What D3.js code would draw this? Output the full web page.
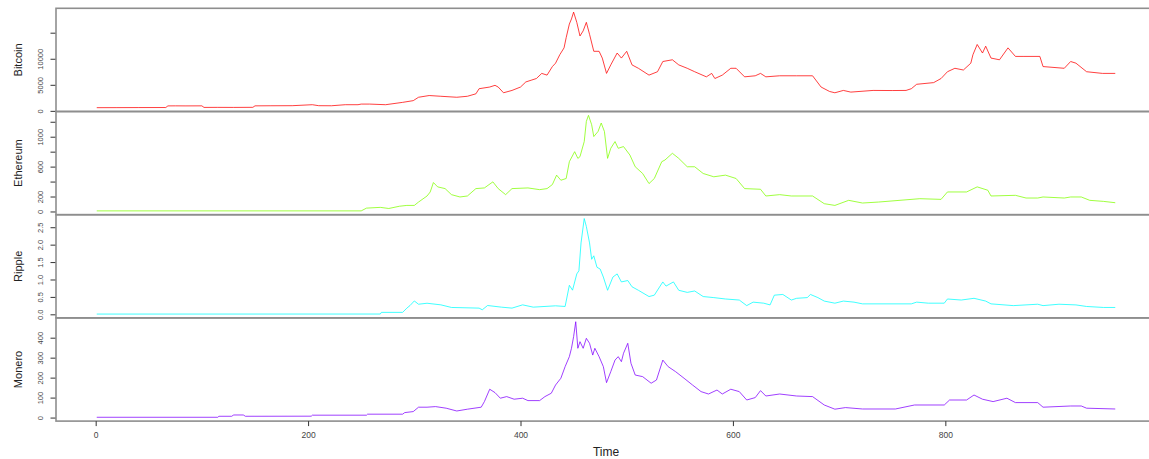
<!DOCTYPE html>
<html>
<head>
<meta charset="utf-8">
<script src="https://cdn.jsdelivr.net/npm/d3@7/dist/d3.min.js"></script>
<style>
body { margin: 0; background: #fff; }
svg { display: block; font-family: "Liberation Sans", Arial, sans-serif; }
.border { fill: none; stroke: #8e8e8e; stroke-width: 1.6; }
.axis path.domain { display: none; }
.axis line { stroke: #333; }
.axis text { fill: #444; }
.series { fill: none; stroke-width: 1; stroke-opacity: 0.75; stroke-linejoin: round; }
</style>
</head>
<body>
<svg id="chart" width="1149" height="459"></svg>
<script>
// [time, price] pairs
var bitcoin = [[1,610],[20,620],[40,630],[66,640],[68,950],[75,960],[85,950],[100,960],[102,660],[115,670],
    [130,660],[148,680],[150,960],[165,980],[185,990],[204,1180],[210,990],[222,980],[235,1180],[247,1180],
    [250,1300],[258,1300],[273,1180],[289,1630],[299,1960],[304,2610],[314,2940],[325,2800],[340,2610],[350,2800],
    [358,3270],[361,4250],[371,4570],[376,4900],[379,4570],[384,3470],[392,3920],[400,4570],[405,5550],[410,5880],
    [415,6210],[420,7190],[425,6860],[430,8500],[433,9150],[437,10780],[441,12090],[443,14050],[446,16660],[448,17640],
    [450,18950],[453,16990],[456,14370],[459,15350],[462,16990],[465,14700],[469,11430],[474,11430],[477,10130],[481,7190],
    [485,8820],[491,11100],[495,10130],[500,11430],[505,8820],[511,8170],[521,6860],[529,7510],[534,9470],[543,9800],
    [549,8820],[557,8170],[564,7510],[575,6530],[580,7190],[583,6210],[590,6860],[598,8170],[603,8170],[611,6530],
    [621,6730],[626,7190],[631,6530],[644,6730],[660,6730],[675,6730],[683,4570],[691,3720],[696,3470],[704,3920],
    [711,3600],[732,3920],[750,3900],[763,3920],[768,4250],[773,5100],[789,5420],[796,6210],[802,7510],[809,8170],
    [817,7840],[824,9150],[826,10780],[830,12740],[835,11100],[838,12410],[843,10130],[851,9800],[859,12090],[866,10450],
    [874,10450],[889,10450],[892,8500],[912,8170],[918,9470],[923,9150],[933,7510],[948,7190],[960,7190]];

var ethereum = [[1,8],[250,8],[255,45],[268,55],[276,40],[286,70],[293,81],[300,81],[304,126],[312,207],
    [315,261],[318,387],[322,329],[329,306],[335,225],[343,194],[350,207],[358,306],[366,315],[374,396],
    [379,306],[386,225],[392,306],[407,315],[418,292],[425,306],[430,360],[434,486],[438,418],[443,441],
    [446,666],[451,800],[454,710],[456,733],[460,935],[462,1205],[464,1286],[467,1160],[469,1002],[473,1070],
    [476,1183],[479,1070],[482,710],[485,845],[489,935],[492,845],[497,868],[503,755],[508,598],[515,508],
    [521,373],[526,441],[533,666],[536,688],[543,778],[549,710],[557,598],[564,598],[572,508],[582,464],
    [593,486],[603,441],[611,306],[626,297],[631,207],[644,225],[655,207],[675,207],[686,104],[696,81],
    [709,149],[722,113],[737,126],[776,171],[796,162],[802,261],[820,261],[830,329],[840,284],[843,207],
    [866,216],[876,180],[887,180],[892,194],[912,180],[918,194],[928,194],[936,149],[949,135],[960,117]];

var ripple = [[1,0.007],[268,0.008],[269,0.056],[289,0.056],[293,0.178],[296,0.253],[300,0.384],[304,0.29],[312,0.318],[325,0.272],
    [335,0.197],[361,0.178],[364,0.13],[369,0.253],[382,0.206],[392,0.178],[402,0.272],[412,0.206],[433,0.244],[442,0.225],
    [446,0.833],[449,0.693],[453,1.16],[455,1.25],[457,2.05],[460,2.75],[462,2.52],[465,2.05],[467,1.58],[469,1.68],
    [472,1.35],[475,1.30],[478,1.07],[482,0.69],[487,1.07],[491,1.16],[495,0.93],[501,0.97],[505,0.79],[511,0.69],
    [521,0.51],[526,0.55],[534,0.93],[537,0.81],[544,0.93],[549,0.69],[557,0.63],[564,0.67],[572,0.51],[582,0.48],
    [593,0.44],[606,0.41],[613,0.25],[619,0.35],[629,0.32],[635,0.27],[639,0.55],[647,0.57],[655,0.41],[660,0.46],
    [670,0.48],[673,0.57],[680,0.48],[686,0.38],[696,0.32],[704,0.38],[714,0.35],[722,0.30],[768,0.30],[773,0.35],
    [784,0.32],[799,0.32],[802,0.44],[815,0.41],[827,0.46],[838,0.38],[843,0.30],[864,0.25],[887,0.29],[892,0.25],
    [907,0.29],[923,0.27],[933,0.225],[949,0.197],[960,0.197]];

var monero = [[1,1.5],[115,1.5],[116,6.5],[128,6.5],[130,13],[139,13],[141,6.5],[203,7],[204,12],[255,12],
    [256,17],[289,17],[291,25],[299,30],[304,52],[312,52],[320,55],[330,47],[340,33],[350,42],
    [363,52],[366,80],[371,142],[376,125],[381,97],[387,105],[394,92],[402,97],[407,85],[418,85],
    [423,105],[429,122],[433,163],[438,197],[442,255],[446,305],[448,347],[450,405],[452,480],[454,347],
    [456,380],[459,347],[462,397],[465,372],[468,313],[470,347],[474,305],[478,255],[481,175],[485,230],
    [489,288],[492,305],[495,280],[497,322],[501,372],[504,272],[508,213],[515,205],[523,172],[528,188],
    [534,288],[539,255],[546,230],[554,197],[562,163],[570,130],[577,118],[585,138],[590,118],[598,142],
    [606,130],[613,88],[621,100],[626,135],[631,108],[644,118],[660,108],[675,105],[686,63],[696,42],
    [706,50],[722,43],[753,43],[771,63],[799,63],[804,88],[820,88],[827,113],[835,92],[845,80],
    [858,97],[866,75],[887,75],[892,52],[918,58],[928,58],[933,47],[960,43]];

var seriesNames = ['Bitcoin', 'Ethereum', 'Ripple', 'Monero'];
var seriesColors = ['#ff0000', '#80ff00', '#00ffff', '#8000ff'];

// y ticks per panel, and which of them get a label (R drops the crowded ones)
var yTickValues = [[0, 5000, 10000, 15000],
                   [0, 200, 400, 600, 800, 1000, 1200],
                   [0, 0.5, 1, 1.5, 2, 2.5],
                   [0, 100, 200, 300, 400]];
var yTickLabels = [['0', '5000', '10000', ''],
                   ['0', '200', '', '600', '', '1000', ''],
                   ['0.0', '0.5', '1.0', '1.5', '2.0', '2.5'],
                   ['0', '100', '200', '300', '400']];
var xTickValues = [0, 200, 400, 600, 800];
var xTitle = 'Time';

var allSeries = [bitcoin, ethereum, ripple, monero];

var svg = d3.select('#chart');
var plotLeft = 56, plotRight = 1156, plotTop = 8.3, panelH = 103.2;

// R style range: data extent padded by 4% on both sides
function padded(ext) {
    var r = ext[1] - ext[0];
    return [ext[0] - 0.04*r, ext[1] + 0.04*r];
}

var timeExt = d3.extent(d3.merge(allSeries), (d) => d[0]);
var x = d3.scaleLinear().domain(padded(timeExt)).range([plotLeft, plotRight]);

allSeries.forEach(function(data, k) {
    var y0 = plotTop + k*panelH, y1 = y0 + panelH;
    var y = d3.scaleLinear()
        .domain(padded(d3.extent(data, (d) => d[1])))
        .range([y1, y0]);

    var g = svg.append('g');

    // Draws the line:
    var line = d3.line().x((d) => x(d[0])).y((d) => y(d[1]));
    g.append('path')
        .datum(data)
        .attr('class', 'series')
        .attr('stroke', seriesColors[k])
        .attr('d', line);

    // Left axis with rotated labels:
    var labels = yTickLabels[k];
    var ax = g.append('g')
        .attr('class', 'axis')
        .attr('transform', 'translate(' + plotLeft + ',0)')
        .call(d3.axisLeft(y).tickValues(yTickValues[k]).tickSize(5.5)
              .tickFormat((d, i) => labels[i]));
    ax.selectAll('text')
        .attr('transform', 'rotate(-90)')
        .attr('x', 0)
        .attr('y', -13.3)
        .attr('dy', 0)
        .attr('text-anchor', 'middle')
        .style('font-size', '7.5px');

    g.append('text')
        .attr('transform', 'translate(22,' + ((y0 + y1)/2) + ') rotate(-90)')
        .attr('text-anchor', 'middle')
        .style('font-size', '11px')
        .style('fill', '#222')
        .text(seriesNames[k]);

    g.append('rect')
        .attr('class', 'border')
        .attr('x', plotLeft).attr('y', y0)
        .attr('width', plotRight - plotLeft).attr('height', panelH);
});

// Bottom time axis:
var plotBottom = plotTop + 4*panelH;
var xa = svg.append('g')
    .attr('class', 'axis')
    .attr('transform', 'translate(0,' + plotBottom + ')')
    .call(d3.axisBottom(x).tickValues(xTickValues).tickSize(5).tickFormat(d3.format('d')));
xa.selectAll('text')
    .attr('y', 10.5)
    .style('font-size', '8.5px');

svg.append('text')
    .attr('x', (plotLeft + plotRight)/2)
    .attr('y', 456)
    .attr('text-anchor', 'middle')
    .style('font-size', '12px')
    .style('fill', '#222')
    .text(xTitle);
</script>
</body>
</html>
